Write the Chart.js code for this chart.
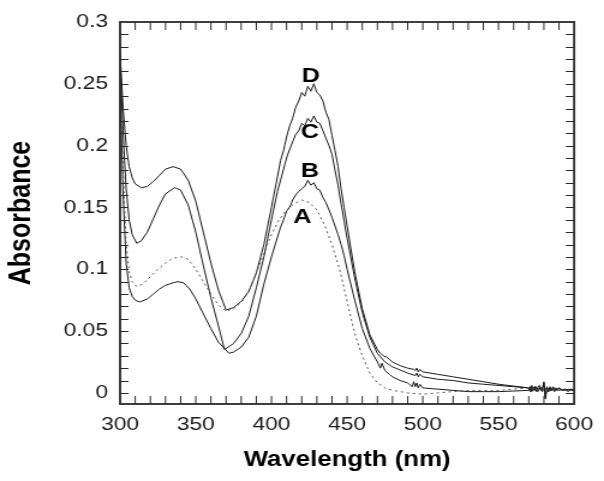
<!DOCTYPE html>
<html>
<head>
<meta charset="utf-8">
<script src="https://cdn.jsdelivr.net/npm/chart.js@4/dist/chart.umd.min.js"></script>
<style>
  html, body { margin: 0; padding: 0; background: #fff; overflow: hidden; }
  /* the original figure is a horizontally stretched export, so stretch the same way */
  #wrap { width: 503px; height: 481px; transform: scaleX(1.2008); transform-origin: 0 0; }
</style>
</head>
<body>
<div id="wrap"><canvas id="spectra" width="503" height="481"></canvas></div>
<script>
// Absorbance spectra A-D

const xTickLabels = [300, 350, 400, 450, 500, 550, 600];
const yTickLabels = [0, 0.05, 0.1, 0.15, 0.2, 0.25, 0.3];
const curveNames = ['A', 'B', 'C', 'D'];

// A (dotted)
const wlA = [300, 302, 304, 306, 308, 311, 315, 320, 325, 330, 335, 341, 345, 350, 355, 360, 365, 370,
  375, 380, 385, 390, 395, 400, 405, 410, 415, 420, 425, 430, 435, 440, 445, 450, 455, 460, 465, 470,
  475, 480, 490, 500, 510, 520, 530, 540, 550, 560, 570, 572, 574, 576, 578, 580, 582, 584, 586, 588,
  590, 592, 594, 596, 598, 600];
const absA = [0.26, 0.18, 0.12, 0.098, 0.09, 0.086, 0.088, 0.094, 0.1, 0.105, 0.109, 0.11, 0.108, 0.1,
  0.09, 0.08, 0.071, 0.066, 0.068, 0.073, 0.082, 0.097, 0.113, 0.128, 0.14, 0.148, 0.153, 0.156, 0.154,
  0.148, 0.136, 0.12, 0.1, 0.074, 0.048, 0.03, 0.016, 0.008, 0.004, 0.002, 0.0, -0.001, 0.0, 0.001,
  0.002, 0.002, 0.002, 0.003, 0.004, 0.003, 0.004, 0.002, 0.003, 0.004, 0.002, 0.003, 0.002, 0.003,
  0.002, 0.003, 0.001, 0.002, 0.002, 0.002];

// B
const wlB = [300, 302, 304, 306, 308, 310, 313, 318, 322, 326, 330, 335, 338, 342, 346, 350, 355, 360,
  365, 372, 375, 380, 385, 390, 395, 400, 404, 406, 408, 410, 412, 414, 416, 418, 420, 422, 424, 426,
  428, 430, 432, 434, 436, 438, 440, 442, 444, 446, 448, 450, 455, 460, 465, 470, 472, 473, 475, 478,
  480, 485, 490, 493, 494, 495, 496, 497, 498, 500, 510, 520, 530, 540, 550, 560, 570, 571, 572, 573,
  574, 575, 576, 577, 578, 579, 580, 581, 582, 583, 584, 585, 586, 587, 588, 589, 590, 592, 594, 596,
  598, 600];
const absB = [0.25, 0.16, 0.105, 0.085, 0.078, 0.075, 0.0735, 0.076, 0.08, 0.084, 0.087, 0.089, 0.09,
  0.089, 0.084, 0.076, 0.064, 0.052, 0.041, 0.032, 0.033, 0.037, 0.045, 0.062, 0.088, 0.11, 0.126,
  0.134, 0.14, 0.147, 0.15, 0.156, 0.16, 0.163, 0.165, 0.167, 0.172, 0.168, 0.17, 0.165, 0.164, 0.158,
  0.154, 0.148, 0.142, 0.135, 0.128, 0.12, 0.111, 0.1, 0.075, 0.052, 0.036, 0.025, 0.02, 0.024, 0.018,
  0.015, 0.013, 0.01, 0.008, 0.005, 0.009, 0.005, 0.008, 0.004, 0.007, 0.004, 0.003, 0.002, 0.001,
  0.001, 0.001, 0.0015, 0.002, 0.005, 0.001, 0.004, 0.002, 0.005, 0.001, 0.003, 0.004, 0.001, 0.009,
  -0.005, 0.004, 0.001, 0.005, 0.002, 0.004, 0.001, 0.003, 0.002, 0.004, 0.002, 0.003, 0.001, 0.003,
  0.002];

// C
const wlC = [300, 302, 304, 306, 308, 311, 314, 318, 322, 326, 330, 336, 340, 345, 350, 355, 360, 365,
  369, 375, 380, 385, 390, 395, 400, 404, 406, 408, 410, 412, 414, 416, 418, 420, 422, 424, 426, 428,
  430, 432, 434, 436, 438, 440, 442, 444, 446, 448, 450, 455, 460, 465, 470, 475, 480, 490, 495, 496,
  497, 498, 500, 510, 520, 530, 540, 550, 560, 570, 572, 574, 576, 578, 580, 582, 584, 586, 588, 590,
  592, 594, 596, 598, 600];
const absC = [0.27, 0.21, 0.165, 0.14, 0.128, 0.121, 0.123, 0.13, 0.141, 0.152, 0.161, 0.166, 0.164,
  0.152, 0.13, 0.103, 0.077, 0.054, 0.035, 0.04, 0.048, 0.062, 0.085, 0.11, 0.14, 0.163, 0.172, 0.181,
  0.19, 0.197, 0.203, 0.209, 0.212, 0.218, 0.216, 0.222, 0.219, 0.224, 0.219, 0.218, 0.212, 0.206, 0.2,
  0.193, 0.18, 0.168, 0.153, 0.139, 0.125, 0.093, 0.065, 0.045, 0.032, 0.025, 0.021, 0.016, 0.014,
  0.016, 0.013, 0.015, 0.013, 0.011, 0.01, 0.008, 0.007, 0.006, 0.005, 0.004, 0.002, 0.005, 0.003,
  0.004, 0.002, 0.004, 0.002, 0.003, 0.004, 0.002, 0.003, 0.002, 0.003, 0.002, 0.002];

// D
const wlD = [300, 302, 304, 306, 308, 310, 314, 318, 322, 326, 330, 335, 340, 345, 350, 355, 360, 365,
  370, 375, 380, 385, 390, 395, 400, 404, 406, 408, 410, 412, 414, 416, 418, 420, 422, 424, 426, 428,
  430, 432, 434, 436, 438, 440, 442, 444, 446, 448, 450, 455, 460, 465, 470, 472, 474, 476, 480, 485,
  490, 494, 495, 496, 497, 498, 500, 510, 520, 530, 540, 550, 560, 570, 571, 572, 573, 574, 575, 576,
  577, 578, 579, 580, 581, 582, 583, 584, 585, 586, 588, 590, 592, 594, 596, 598, 600];
const absD = [0.275, 0.23, 0.2, 0.183, 0.174, 0.169, 0.166, 0.167, 0.171, 0.176, 0.181, 0.183, 0.181,
  0.172, 0.155, 0.13, 0.105, 0.083, 0.067, 0.069, 0.074, 0.082, 0.097, 0.12, 0.15, 0.175, 0.188, 0.196,
  0.207, 0.216, 0.222, 0.231, 0.236, 0.243, 0.24, 0.248, 0.244, 0.25, 0.243, 0.241, 0.236, 0.227, 0.221,
  0.208, 0.196, 0.183, 0.165, 0.15, 0.135, 0.098, 0.068, 0.047, 0.035, 0.032, 0.03, 0.029, 0.025, 0.022,
  0.02, 0.019, 0.018, 0.02, 0.017, 0.019, 0.017, 0.015, 0.013, 0.011, 0.009, 0.007, 0.0055, 0.004,
  0.001, 0.006, 0.002, 0.005, 0.001, 0.004, 0.006, 0.002, 0.004, 0.008, -0.004, 0.005, 0.001, 0.004,
  0.002, 0.005, 0.002, 0.004, 0.002, 0.003, 0.002, 0.003, 0.002];

// curve letters, anchored in data units
const letterWl = [420.5, 425.5, 425.5, 426];
const letterAbs = [0.142, 0.179, 0.211, 0.256];

function toPoints(xs, ys) {
    return xs.map(function(x, i) { return { x: x, y: ys[i] }; });
}

const FONT = "'Liberation Sans', Arial, sans-serif";

// frame, inward ticks on all four sides, curve letters
const framePlugin = {
    id: 'frame',
    afterDatasetsDraw(chart) {
        const ctx = chart.ctx;
        const a = chart.chartArea;
        const xs = chart.scales.x;
        const ys = chart.scales.y;
        ctx.save();
        ctx.strokeStyle = '#2a2a2a';
        ctx.lineWidth = 1;
        ctx.beginPath();
        for (let w = 310; w < 600; w += 10) {
            const px = xs.getPixelForValue(w);
            ctx.moveTo(px, a.bottom); ctx.lineTo(px, a.bottom - 8);
            ctx.moveTo(px, a.top); ctx.lineTo(px, a.top + 8);
        }
        for (let k = 0; k < 30; k++) {
            const py = Math.round(ys.getPixelForValue(k / 100)) + 0.5;
            ctx.moveTo(a.left, py); ctx.lineTo(a.left + 7, py);
            ctx.moveTo(a.right, py); ctx.lineTo(a.right - 7, py);
        }
        ctx.stroke();
        ctx.lineWidth = 1.8;
        ctx.strokeRect(a.left, a.top, a.right - a.left, a.bottom - a.top);

        ctx.fillStyle = '#000';
        ctx.font = 'bold 21px ' + FONT;
        ctx.textAlign = 'center';
        ctx.textBaseline = 'middle';
        curveNames.forEach(function(n, i) {
            ctx.fillText(n, xs.getPixelForValue(letterWl[i]), ys.getPixelForValue(letterAbs[i]));
        });
        ctx.restore();
    }
};

const lineStyle = { borderColor: '#1a1a1a', borderWidth: 1, pointRadius: 0, showLine: true, tension: 0, fill: false };

new Chart(document.getElementById('spectra'), {
    type: 'scatter',
    data: {
        datasets: [
            Object.assign({ label: 'A', data: toPoints(wlA, absA), borderDash: [2, 3] }, lineStyle, { borderColor: '#555' }),
            Object.assign({ label: 'B', data: toPoints(wlB, absB) }, lineStyle),
            Object.assign({ label: 'C', data: toPoints(wlC, absC) }, lineStyle),
            Object.assign({ label: 'D', data: toPoints(wlD, absD) }, lineStyle)
        ]
    },
    options: {
        responsive: false,
        animation: false,
        layout: { padding: { top: 22, right: 22, left: 0, bottom: 0 } },
        plugins: { legend: { display: false }, tooltip: { enabled: false } },
        scales: {
            x: {
                type: 'linear',
                min: 300,
                max: 600,
                afterBuildTicks: function(scale) { scale.ticks = xTickLabels.map(function(v) { return { value: v }; }); },
                afterFit: function(scale) { scale.height = 77; },
                grid: { display: false, drawTicks: false },
                border: { display: false },
                ticks: { color: '#1a1a1a', font: { family: FONT, size: 19 }, padding: 9, maxRotation: 0 },
                title: { display: true, text: 'Wavelength (nm)', color: '#000',
                         font: { family: FONT, size: 21.5, weight: 'bold' }, padding: { top: 4, bottom: 8 } }
            },
            y: {
                min: -0.009,
                max: 0.3,
                afterBuildTicks: function(scale) { scale.ticks = yTickLabels.map(function(v) { return { value: v }; }); },
                afterFit: function(scale) { scale.width = 100; },
                grid: { display: false, drawTicks: false },
                border: { display: false },
                ticks: { color: '#1a1a1a', font: { family: FONT, size: 19 }, padding: 10,
                         callback: function(v) { return String(v); } },
                title: { display: true, text: 'Absorbance', color: '#000',
                         font: { family: FONT, size: 25, weight: 'bold' }, padding: { top: 3, bottom: 4 } }
            }
        }
    },
    plugins: [framePlugin]
});
</script>
</body>
</html>
